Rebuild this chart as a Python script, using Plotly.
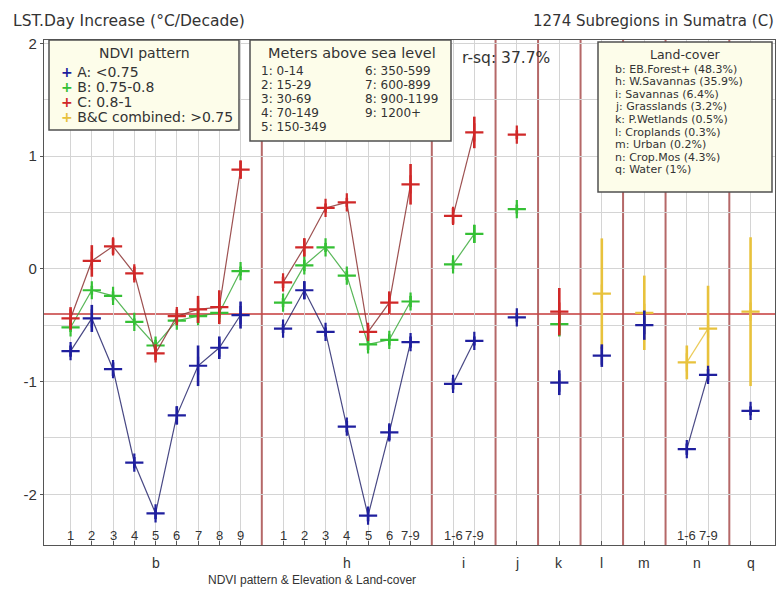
import plotly.graph_objects as go

# ---- data -------------------------------------------------------------
# x position of every elevation class, grouped by land-cover
x_pos = [1, 2, 3, 4, 5, 6, 7, 8, 9,
         11, 12, 13, 14, 15, 16, 17,
         19, 20,
         22,
         24,
         26,
         28,
         30, 31,
         33]
group_of = (['b'] * 9 + ['h'] * 7 + ['i'] * 2 + ['j', 'k', 'l', 'm']
            + ['n'] * 2 + ['q'])
elev_labels = ['1', '2', '3', '4', '5', '6', '7', '8', '9',
               '1', '2', '3', '4', '5', '6', '7-9',
               '1-6', '7-9',
               '', '', '', '',
               '1-6', '7-9',
               '']

# NDVI pattern A: <0.75
ndvi_a = [-0.73, -0.44, -0.89, -1.72, -2.17, -1.30, -0.86, -0.70, -0.41,
          -0.53, -0.19, -0.56, -1.40, -2.19, -1.45, -0.65,
          -1.02, -0.64,
          -0.43,
          -1.01,
          -0.77,
          -0.50,
          -1.60, -0.94,
          -1.26]
ndvi_a_err = [0.05, 0.12, 0.06, 0.05, 0.05, 0.08, 0.18, 0.10, 0.12,
              0.04, 0.08, 0.04, 0.05, 0.05, 0.07, 0.05,
              0.05, 0.04,
              0.04,
              0.11,
              0.10,
              0.13,
              0.05, 0.05,
              0.04]

# NDVI pattern B: 0.75-0.8
ndvi_b = [-0.52, -0.19, -0.24, -0.47, -0.68, -0.46, -0.42, -0.39, -0.02,
          -0.30, 0.03, 0.19, -0.06, -0.67, -0.63, -0.29,
          0.04, 0.31,
          0.53,
          -0.49,
          None, None, None, None, None]
ndvi_b_err = [0.04, 0.04, 0.04, 0.03, 0.05, 0.04, 0.06, 0.05, 0.04,
              0.04, 0.05, 0.04, 0.04, 0.05, 0.05, 0.05,
              0.04, 0.08,
              0.04,
              0.11,
              None, None, None, None, None]

# NDVI pattern C: 0.8-1
ndvi_c = [-0.44, 0.07, 0.20, -0.04, -0.75, -0.42, -0.36, -0.34, 0.88,
          -0.12, 0.19, 0.54, 0.59, -0.56, -0.30, 0.75,
          0.47, 1.21,
          1.19,
          -0.38,
          None, None, None, None, None]
ndvi_c_err = [0.10, 0.14, 0.07, 0.06, 0.06, 0.06, 0.12, 0.15, 0.08,
              0.05, 0.08, 0.04, 0.04, 0.06, 0.10, 0.18,
              0.07, 0.14,
              0.04,
              0.21,
              None, None, None, None, None]

# B&C combined: >0.75
ndvi_bc = [None] * 20 + [-0.22, -0.39, -0.83, -0.53, -0.38]
ndvi_bc_err = [None] * 20 + [0.49, 0.33, 0.15, 0.38, 0.66]

separators = [10, 18, 21, 23, 25, 27, 29, 32]
reference_level = -0.40
group_names = ['b', 'h', 'i', 'j', 'k', 'l', 'm', 'n', 'q']

ndvi_legend = ['A: <0.75', 'B: 0.75-0.8', 'C: 0.8-1', 'B&C combined: >0.75']
elev_legend_left = ['1: 0-14', '2: 15-29', '3: 30-69', '4: 70-149', '5: 150-349']
elev_legend_right = ['6: 350-599', '7: 600-899', '8: 900-1199', '9: 1200+']
landcover_legend = ['b: EB.Forest+ (48.3%)', 'h: W.Savannas (35.9%)',
                    'i: Savannas (6.4%)', 'j: Grasslands (3.2%)',
                    'k: P.Wetlands (0.5%)', 'l: Croplands (0.3%)',
                    'm: Urban (0.2%)', 'n: Crop.Mos (4.3%)', 'q: Water (1%)']

# ---- styling ----------------------------------------------------------
FONT = 'Liberation Sans, Arial, sans-serif'
WIDE = 'DejaVu Sans, Verdana, sans-serif'
TXT = '#333333'
series_style = [
    (ndvi_a, ndvi_a_err, '#1f1f9e', 'rgba(40,40,110,0.85)'),
    (ndvi_b, ndvi_b_err, '#35c035', 'rgba(60,170,60,0.85)'),
    (ndvi_c, ndvi_c_err, '#d02828', 'rgba(140,50,50,0.85)'),
    (ndvi_bc, ndvi_bc_err, '#e8c23c', 'rgba(232,194,60,0.85)'),
]

# plot-area geometry (pixels) used to place the legend boxes
W, H = 779, 594
ML, MR, MT, MB = 44, 4, 40, 49
PW, PH = W - ML - MR, H - MT - MB


def px(x):
    return (x - ML) / PW


def py(y):
    return (H - MB - y) / PH


fig = go.Figure()

# draw order: yellow under the others, blue on top
for vals, errs, mcol, lcol in [series_style[3], series_style[1],
                               series_style[2], series_style[0]]:
    lx, ly = [], []
    prev = None
    for x, g, v in zip(x_pos, group_of, vals):
        if v is None:
            continue
        if prev is not None and g != prev:
            lx.append(None)
            ly.append(None)
        lx.append(x)
        ly.append(v)
        prev = g
    fig.add_trace(go.Scatter(x=lx, y=ly, mode='lines',
                             line=dict(color=lcol, width=1.2),
                             hoverinfo='skip', showlegend=False))
    px_, py_, pe = [], [], []
    for x, v, e in zip(x_pos, vals, errs):
        if v is None:
            continue
        px_.append(x)
        py_.append(v)
        pe.append(e)
    fig.add_trace(go.Scatter(
        x=px_, y=py_, mode='markers',
        marker=dict(symbol='cross-thin', size=13,
                    line=dict(color=mcol, width=2.2), color=mcol),
        error_y=dict(type='data', array=pe, visible=True,
                     color=mcol, thickness=2.6, width=0),
        showlegend=False))

shapes = []
for s in separators:
    shapes.append(dict(type='line', xref='x', yref='paper', x0=s, x1=s,
                       y0=0, y1=1, layer='below',
                       line=dict(color='rgba(150,40,40,0.7)', width=2)))
shapes.append(dict(type='line', xref='paper', yref='y', x0=0, x1=1,
                   y0=reference_level, y1=reference_level, layer='below',
                   line=dict(color='rgba(200,70,70,0.8)', width=2)))

# legend boxes
BOX_FILL = '#fdfdea'
BOX_LINE = '#505050'
for x0, y0, x1, y1 in [(49, 40, 239, 130), (250, 40, 451, 141),
                       (598, 42, 772, 192)]:
    shapes.append(dict(type='rect', xref='paper', yref='paper',
                       x0=px(x0), x1=px(x1), y0=py(y1), y1=py(y0),
                       fillcolor=BOX_FILL, line=dict(color=BOX_LINE, width=1.5),
                       layer='above'))

ann = []


def text(x, y, s, size=13, xanchor='left', color=TXT, family=WIDE):
    ann.append(dict(xref='paper', yref='paper', x=px(x), y=py(y), text=s,
                    showarrow=False, xanchor=xanchor, yanchor='middle',
                    font=dict(family=family, size=size, color=color)))


# titles
text(11, 21, 'LST.Day Increase (°C/Decade)', 15.5)
text(776, 21, '1274 Subregions in Sumatra (C)', 15, xanchor='right')
text(460, 58, 'r-sq: 37.7%', 15.5)

# NDVI legend
text(144, 53, 'NDVI pattern', 14, xanchor='center')
for i, (lab, st) in enumerate(zip(ndvi_legend, series_style)):
    text(59, 72 + i * 15,
         '<span style="color:' + st[2] + '"><b>+</b></span> ' + lab, 14)

# elevation legend
text(352, 53, 'Meters above sea level', 14.5, xanchor='center')
for i, lab in enumerate(elev_legend_left):
    text(259, 71 + i * 14, lab, 12)
for i, lab in enumerate(elev_legend_right):
    text(363, 71 + i * 14, lab, 12)

# land-cover legend
text(685, 54, 'Land-cover', 12.5, xanchor='center')
for i, lab in enumerate(landcover_legend):
    text(613, 69 + i * 12.6, lab, 11)

# elevation class labels inside the plot
for x, lab in zip(x_pos, elev_labels):
    if lab:
        ann.append(dict(xref='x', yref='paper', x=x, y=py(535), text=lab,
                        showarrow=False, xanchor='center', yanchor='middle',
                        font=dict(family=FONT, size=13, color=TXT)))

# land-cover group labels under the axis
for g in group_names:
    xs = [x for x, gg in zip(x_pos, group_of) if gg == g]
    ann.append(dict(xref='x', yref='paper', x=sum(xs) / len(xs), y=py(563),
                    text=g, showarrow=False, xanchor='center',
                    yanchor='middle',
                    font=dict(family=FONT, size=14, color=TXT)))

text(312, 580, 'NDVI pattern & Elevation & Land-cover', 12, xanchor='center',
     family=FONT)

fig.update_layout(
    width=W, height=H,
    margin=dict(l=ML, r=MR, t=MT, b=MB, pad=0),
    paper_bgcolor='white', plot_bgcolor='white',
    shapes=shapes, annotations=ann,
    font=dict(family=FONT, size=13, color=TXT),
    showlegend=False,
)
fig.update_xaxes(
    range=[-0.25, 34.15], showticklabels=False, showgrid=False,
    zeroline=False, showline=True, linecolor='#555555', linewidth=1.2,
    mirror=True, ticks='',
    minor=dict(tickmode='array', tickvals=x_pos, showgrid=True,
               gridcolor='#d4d4d4', gridwidth=1, ticks='inside',
               ticklen=4, tickcolor='#555555'),
)
fig.update_yaxes(
    range=[-2.45, 2.03], tickvals=[-2, -1, 0, 1, 2],
    ticktext=['-2', '-1', '0', '1', '2'],
    showgrid=True, gridcolor='#d4d4d4', gridwidth=1, zeroline=False,
    showline=True, linecolor='#555555', linewidth=1.2, mirror=True,
    ticks='outside', ticklen=3, tickcolor='#555555',
    tickfont=dict(family=FONT, size=15, color=TXT),
    minor=dict(dtick=0.5, showgrid=True, gridcolor='#d4d4d4', gridwidth=1),
)

fig.write_html('out.html')
